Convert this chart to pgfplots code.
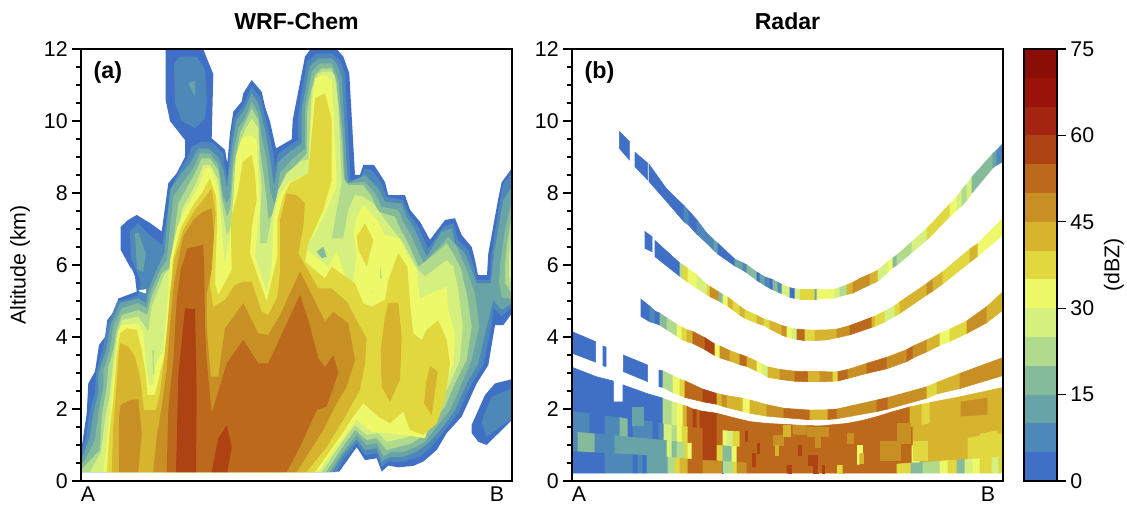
\documentclass[border=0pt]{standalone}
\usepackage{pgfplots}
\pgfplotsset{compat=1.18}
\usepackage{fontspec}
\setmainfont{Liberation Sans}
\definecolor{L0}{RGB}{64,112,198}
\definecolor{L5}{RGB}{78,136,184}
\definecolor{L10}{RGB}{104,163,168}
\definecolor{L15}{RGB}{134,187,154}
\definecolor{L20}{RGB}{176,219,140}
\definecolor{L25}{RGB}{214,240,127}
\definecolor{L30}{RGB}{238,249,106}
\definecolor{L35}{RGB}{225,216,63}
\definecolor{L40}{RGB}{214,180,46}
\definecolor{L45}{RGB}{200,143,37}
\definecolor{L50}{RGB}{188,105,28}
\definecolor{L55}{RGB}{173,66,18}
\definecolor{L60}{RGB}{163,36,16}
\definecolor{L65}{RGB}{153,19,10}
\definecolor{L70}{RGB}{138,14,6}
\pgfplotsset{
  colormap={dbz}{rgb255=(64,112,198) rgb255=(78,136,184) rgb255=(104,163,168) rgb255=(134,187,154) rgb255=(176,219,140) rgb255=(214,240,127) rgb255=(238,249,106) rgb255=(225,216,63) rgb255=(214,180,46) rgb255=(200,143,37) rgb255=(188,105,28) rgb255=(173,66,18) rgb255=(163,36,16) rgb255=(153,19,10) rgb255=(138,14,6)},
  panel/.style={
    at={(#1,17.25pt)},anchor=south west,scale only axis,width=323.25pt,height=324pt,
    xmin=0,xmax=431,ymin=0,ymax=12,
    ytick={0,2,4,6,8,10,12},minor y tick num=3,
    xtick={7,416},xticklabels={A,B},
    tick align=outside,ytick pos=left,xtick pos=bottom,
    major tick length=6.5pt,minor tick length=4pt,
    x tick style={draw=none},
    tick style={black,line width=0.8pt},
    axis line style={line width=0.9pt},
    axis on top,
    tick label style={font=\fontsize{16}{18}\selectfont},
    /pgf/number format/assume math mode=true,
    xticklabel style={yshift=5.5pt},
    title style={font=\fontsize{17.3}{20}\selectfont\bfseries,yshift=5pt},
    clip=true,
  },
  c/.style={fill=#1,draw=none,forget plot},
  radar/.style={surf,shader=flat corner,mesh/rows=2,point meta=explicit,colormap name=dbz,colormap access=direct,forget plot},
}
\begin{document}
\begin{tikzpicture}
\path[use as bounding box] (0,0) rectangle (845.25pt,378pt);
\begin{axis}[panel=60.75pt,title={WRF-Chem},ylabel={Altitude (km)},ylabel style={font=\fontsize{16}{18}\selectfont,at={(axis description cs:-0.1415,0.5)},anchor=center}]
% contour 0 dBZ
\addplot[c=L0] coordinates {(0,0.25)(0,0.8)(5.7,1.88)(7.3,2.71)(14,3.04)(18,3.78)(24,4.0)(26.3,4.47)(34,4.75)(37.3,5.07)(55.7,5.26)(54,5.68)(47.3,6.14)(50.7,5.86)(39.7,6.42)(39.7,7.06)(47,7.25)(55.7,7.39)(70,7.15)(80.7,6.93)(87.3,8.27)(95.7,8.55)(104,9.0)(104,9.47)(89,10.0)(84.7,10.58)(84.7,12.1)(120.7,12.1)(132.3,11.3)(130.7,9.52)(144,9.2)(146.3,8.82)(149,9.66)(152.3,10.26)(160.7,10.54)(162.3,10.77)(170.7,11.14)(180.7,10.81)(184,10.4)(189,9.98)(195,9.24)(210.7,9.49)(211.7,10.03)(224,11.79)(232.3,12.1)(252.3,12.1)(262.3,11.79)(268.3,11.32)(274,8.5)(279,8.5)(282.3,8.78)(293,8.78)(304,8.3)(307.3,7.94)(324,7.94)(329,7.53)(339,7.2)(349,6.7)(364,7.25)(374,7.3)(380.7,6.83)(390.7,6.5)(394,6.14)(397,5.72)(406,5.72)(407.3,6.32)(417.3,7.85)(420.7,8.3)(431,8.69)(431,4.66)(422.3,4.33)(414,4.33)(407.3,3.22)(395.7,2.71)(380.7,1.79)(365.7,1.33)(355.7,0.86)(342.3,0.54)(332.3,0.42)(317.3,0.38)(307.3,0.43)(300.7,0.26)(295.7,0.63)(284,0.58)(275.7,0.94)(258.3,0.26)} --cycle;
\addplot[c=L0] coordinates {(431,2.83)(414,2.71)(404,2.39)(390.7,1.56)(390.7,1.33)(397.3,1.09)(405.7,1.0)(431,1.7)} --cycle;
\addplot[c=L5] coordinates {(431,2.58)(410.7,2.34)(402.3,1.79)(400.7,1.6)(405.7,1.23)(431,1.74)} --cycle;
\addplot[c=L5] coordinates {(93,11.6)(99,11.79)(115.7,11.79)(124,11.42)(125.7,10.58)(124,10.07)(114,9.8)(100.7,10)(94,10.49)} --cycle;
\addplot[c=L10] coordinates {(107.3,11.05)(114,11.12)(114,10.68)} --cycle;
% 5 dBZ
\addplot[c=L5] coordinates {(0,0.25)(0,0.72)(5,1.2)(8,1.85)(14,2.5)(15,3)(22,3.7)(27,4.35)(36,4.98)(57,5.15)(60,5.5)(55,5.9)(50,6.2)(49,6.93)(57,7.16)(68,6.85)(81,6.55)(90.7,8.18)(99,8.64)(106.3,8.96)(110.7,9.29)(120.7,9.43)(132.3,9.38)(142.3,9.1)(144,8.69)(146.5,8.4)(149,9.29)(153,10.07)(162.3,10.44)(170.7,10.95)(179,10.68)(185.7,9.98)(192.3,9.1)(194,8.69)(197.3,9.1)(209,9.33)(217,9.47)(217,10.12)(225.7,11.65)(235.7,11.88)(250.7,11.88)(259,11.69)(264,11.32)(269,8.59)(269,8.36)(279,8.41)(284,8.68)(290.7,8.64)(300.7,8.27)(305.7,7.9)(322.3,7.8)(327.3,7.44)(337.3,7.06)(347.3,6.46)(362.3,7.06)(372.3,7.16)(377.3,6.69)(387.3,6.42)(394,5.86)(395.7,5.58)(409,5.58)(410.7,6.32)(419,7.8)(422.3,8.27)(431,8.55)(431,4.85)(420.7,4.57)(412.3,4.8)(410.7,4.33)(402.3,3.22)(390.7,2.71)(377.3,1.88)(364,1.42)(350.7,0.95)(339,0.68)(322.3,0.54)(307.3,0.54)(300.7,0.4)(295.7,0.77)(284,0.72)(275.7,1.05)(262.3,0.58)(255,0.25)} --cycle;
% 10 dBZ
\addplot[c=L10] coordinates {(54,6.88)(57.3,6.9)(65,6.3)(62,5.8)(56,5.9)(55,6.4)} --cycle;
\addplot[c=L10] coordinates {(0,0.25)(0,0.55)(9,1.23)(12.3,1.88)(17.3,2.44)(17.3,3)(25.7,3.69)(29,4.29)(39,4.94)(57.3,5.07)(65,4.94)(67.3,5.3)(76.3,5.91)(83.3,6.32)(89,8.08)(99,8.5)(109,8.82)(117.3,9.24)(127.3,9.24)(137.3,9.0)(142.3,8.64)(146,8.12)(149,8.82)(152.3,9.56)(155.7,10.03)(162.3,10.26)(170.7,10.77)(177.3,10.49)(184,9.75)(189,9.0)(193,8.18)(197.3,8.87)(209,9.15)(220.7,9.38)(220.7,10.3)(228.3,11.5)(237.3,11.74)(250.7,11.74)(255.7,11.6)(260.7,11.23)(266.3,8.55)(267.3,8.27)(284,8.5)(297.3,8.13)(304,7.76)(320.7,7.71)(325.7,7.34)(334,6.97)(345.7,6.23)(360.7,6.93)(370.7,7.02)(374,6.6)(384,6.32)(390.7,5.86)(395.7,5.49)(409.7,5.49)(413,6.32)(422.3,7.8)(431,8.18)(431,4.94)(420.7,4.75)(412.3,5.03)(405.7,4.29)(397.3,3.27)(385.7,2.71)(374,1.97)(360.7,1.46)(347.3,1.05)(335.7,0.82)(322.3,0.67)(309,0.67)(300.7,0.54)(295.7,0.91)(284,0.86)(275.7,1.16)(260.7,0.68)(251.3,0.25)} --cycle;
% right lobe
\addplot[c=L15] coordinates {(431,7.8)(424,7.0)(419,6.0)(418,5.5)(421,5.1)(431,5.05)} --cycle;
\addplot[c=L20] coordinates {(431,7.4)(426,6.6)(424,6)(424,5.5)(431,5.2)} --cycle;
\addplot[c=L25] coordinates {(431,6.9)(428,6.2)(428,5.7)(431,5.4)} --cycle;
\addplot[c=L30] coordinates {(431,6.5)(430,6)(431,5.6)} --cycle;
% 15 dBZ
\addplot[c=L15] coordinates {(0,0.25)(0,0.45)(4,0.58)(14,1.14)(17.3,1.88)(22.3,2.62)(22.3,3.08)(29,3.64)(32.3,4.29)(40.7,4.8)(57.3,4.94)(65.7,4.8)(69,5.21)(79,5.86)(85.7,6.14)(92.3,7.9)(102.3,8.31)(112.3,8.69)(119,9.1)(129,9.1)(137.3,8.78)(142.3,7.9)(145.7,7.7)(149,7.9)(152.3,9.1)(157.3,9.8)(164,10.07)(170.7,10.54)(177.3,10.2)(180.7,9.56)(185.7,8.92)(189,8.08)(194,7.62)(199,8.55)(210.7,8.92)(224,9.24)(224,10.4)(230.7,11.37)(239,11.6)(250.7,11.6)(257.3,11.14)(262.3,9.47)(264,8.27)(284,8.31)(294,7.99)(300.7,7.62)(317.3,7.53)(322.3,7.2)(330.7,6.79)(342.3,6.05)(359,6.51)(367.3,6.79)(375.7,6.51)(385.7,5.86)(394,5.21)(398.3,4.29)(390.7,3.36)(380.7,2.71)(369,1.97)(355.7,1.51)(344,1.09)(332.3,0.91)(322.3,0.81)(310.7,0.81)(302.3,0.68)(295.7,1.05)(285.7,1.0)(275.7,1.28)(260.7,0.77)(248.3,0.25)} --cycle;
% 20 dBZ
\addplot[c=L20] coordinates {(0,0.25)(0,0.3)(2.3,0.38)(19,0.86)(20.7,1.79)(25.7,2.62)(27.3,3.18)(32.3,3.64)(35.7,4.2)(40.7,4.61)(57.3,4.75)(66.3,4.61)(70.7,5.12)(80.7,5.77)(89,5.95)(97.3,7.71)(105.7,8.13)(114,8.55)(120.7,8.96)(129,8.96)(137.3,8.64)(141.7,7.8)(146,7.34)(149.7,7.62)(152.3,8.64)(159,9.66)(164,9.94)(170.7,10.35)(177.3,10.03)(179,9.19)(182.3,8.55)(185.7,7.8)(187.3,7.25)(192.3,7.44)(200.7,8.27)(212.3,8.69)(225.7,9.1)(226.3,10.4)(234,11.28)(240.7,11.46)(250.7,11.46)(255.7,11.05)(260.7,9.47)(263,8.4)(267.3,8.22)(282.3,8.22)(290.7,7.9)(297.3,7.48)(314,7.34)(319,7.02)(327.3,6.6)(337.3,5.95)(354,6.32)(365.7,6.6)(372.3,6.32)(380.7,5.86)(382.3,5.58)(385.7,5.21)(390.7,4.29)(385.7,3.36)(374,2.71)(364,2.07)(350.7,1.6)(339,1.19)(329,1.03)(317.3,0.95)(305.7,0.86)(295.7,1.19)(285.7,1.14)(274,1.42)(260.7,0.91)(245,0.25)} --cycle;
% 25 dBZ
\addplot[c=L25] coordinates {(9,0.25)(20,0.8)(24,1.7)(29,2.44)(32.3,3.36)(35.7,4)(40.7,4.47)(57.3,4.57)(67.3,4.15)(70.7,4.84)(84,5.77)(92.3,5.95)(100.7,7.53)(109,7.94)(115.7,8.31)(122.3,8.78)(129,8.78)(137.3,8.36)(140.7,7.62)(146,6.8)(149.7,7.06)(154,8.18)(159,9.38)(164,9.75)(170.7,10.07)(177.3,9.8)(178.3,8.82)(180.7,8.18)(179,7.25)(179,6.6)(185.7,6.6)(190.7,7.34)(197.3,8.08)(205.7,8.55)(220.7,8.9)(227.3,8.92)(230.7,10.86)(237.3,11.32)(242.3,11.37)(250.7,11.37)(254,11.23)(257.3,10.4)(260.7,8.27)(255.7,7.53)(250.7,6.74)(262.3,6.74)(267.3,7.53)(274,7.94)(282.3,7.9)(292.3,7.71)(305.7,7.2)(322.3,6.6)(337.3,5.86)(344,5.68)(365.7,6.14)(372.3,5.95)(377.3,5.31)(381.7,4.29)(379,3.36)(369,2.71)(359,2.16)(347.3,1.7)(337.3,1.33)(322.3,1.19)(305.7,1.09)(297.3,1.33)(285.7,1.28)(274,1.56)(259,1.0)(240.7,0.25)} --cycle;
% 30 dBZ
\addplot[c=L30] coordinates {(22.3,0.25)(27.3,1.51)(30.7,2.44)(34,3.36)(37.3,4.2)(40.7,4.33)(57.3,4.38)(62.3,4.1)(65.7,3.08)(68.3,2.67)(72.3,2.67)(74,3.18)(82.3,3.64)(84,4.29)(87.3,5.21)(89,6.14)(96.3,7.06)(102.3,7.44)(110.7,7.85)(119,8.27)(124,8.69)(130.7,8.69)(137.3,8.08)(141.7,6.69)(144,6.05)(149,6.79)(152.3,7.81)(154.7,9.0)(160.7,9.52)(170.7,9.61)(175.7,9.43)(177.3,8.55)(179,7.62)(174,6.23)(186.3,5.21)(190.7,6.05)(192.3,7.25)(197.3,7.9)(207.3,8.27)(219,8.45)(228.3,8.55)(230.7,10.4)(234,11.19)(242.3,11.28)(250.7,11.14)(254,9.47)(255.7,8.18)(245.7,7.53)(234,6.88)(224,6.46)(247.3,5.95)(255.7,6.37)(265.7,5.58)(272.3,5.54)(275.7,6.32)(272.3,6.88)(275.7,7.34)(282.3,7.67)(297.3,7.2)(304,6.83)(319,6.74)(325.7,6.32)(335.7,5.86)(339,5.07)(365.7,5.4)(367.3,4.75)(374,4.1)(372.3,3.27)(364,2.67)(354,2.07)(344,1.19)(322.3,1.28)(305.7,1.33)(290.7,1.37)(275.7,1.7)(260.7,1.14)(237.3,0.25)} --cycle;
% 35 dBZ
\addplot[c=L35] coordinates {(25.7,0.25)(29,1.51)(32.3,2.25)(35.7,3.45)(39,4.1)(45.7,4.24)(55.7,4.2)(60.7,3.64)(65,2.9)(66.3,2.39)(74,2.39)(79,2.99)(85,3.64)(87.3,4.38)(90,5.21)(91.7,6.14)(99.7,7.02)(112.3,7.67)(120.7,7.99)(129,8.41)(135,7.9)(136.3,7.25)(135,6.32)(134,5.49)(137.3,5.17)(150.7,5.86)(149.7,7.25)(157.3,8.08)(161.7,8.87)(170.7,9.06)(174,8.55)(175.7,7.81)(170.7,7.06)(169,6.32)(185.7,4.98)(196.3,6.23)(196.3,7.25)(202.3,7.9)(209,8.27)(227.3,8.55)(234,10.63)(244,10.77)(250.7,10.03)(250.7,8.36)(242.3,7.53)(227.3,6.6)(224,6.09)(244,5.63)(250.7,5.95)(274,5.49)(282.3,4.94)(290.7,4.84)(304,5.03)(307.3,5.58)(317.3,6.33)(326.3,5.95)(329,4.94)(332.3,4.1)(340.7,3.92)(345.7,4.2)(357.3,4.47)(365.7,3.92)(369,3.27)(364,2.25)(355.7,1.6)(342.3,1.28)(329,1.42)(322.3,1.93)(309,1.6)(297.3,1.79)(282.3,2.16)(272.3,1.79)(259,1.23)(234,0.25)} --cycle;
\addplot[c=L35] coordinates {(275.7,6.79)(284,7.16)(292.3,6.69)(285.7,5.95)(277.3,6.42)} --cycle;
% 40 dBZ
\addplot[c=L40] coordinates {(30.7,0.25)(32.3,1.51)(35,2.44)(37.3,3.36)(39,3.83)(47.3,3.73)(54,3.45)(59,2.9)(63,1.97)(75,1.97)(79,2.44)(83,3.36)(86.3,4.29)(89,5.21)(93,6.14)(97.3,6.51)(102.3,6.97)(114,7.53)(122.3,7.81)(130.7,8.13)(134.7,7.43)(132.3,6.69)(129.7,5.77)(129,5.4)(132.3,4.84)(144,5.03)(154,5.45)(162.3,5.54)(170.7,5.54)(180.7,4.7)(187.3,4.61)(196.3,5.12)(199,5.77)(199,7.25)(205.7,7.99)(215.7,7.94)(224,7.71)(222.3,7.06)(217.3,6.32)(237.3,5.35)(250.7,5.35)(265.7,4.98)(285.7,3.96)(284,3.27)(279,2.53)(262.3,1.7)(245.7,0.95)(225.7,0.25)} --cycle;
\addplot[c=L40] coordinates {(307.3,4.94)(317.3,4.94)(320.7,4.01)(319,2.81)(309,2.2)(300.7,2.62)(299.7,3.64)(304,4.57)} --cycle;
\addplot[c=L40] coordinates {(349,3.2)(356.7,3.04)(350.7,1.83)(343,2.16)(345,2.71)} --cycle;
% 45 dBZ
\addplot[c=L45] coordinates {(38,0.25)(38,1.79)(39.7,2.11)(49,2.25)(57.3,2.27)(60.7,1.33)(57.3,0.25)} --cycle;
\addplot[c=L45] coordinates {(72.3,0.25)(75.7,1.23)(80.7,2.07)(85.7,3.08)(89,4.29)(93,5.49)(97.3,6.14)(102.3,6.79)(112.3,7.25)(122.3,7.48)(130.7,7.57)(133,6.88)(130.7,5.86)(125.7,5.21)(125.7,4.29)(129.7,2.9)(137.3,2.9)(144,4.24)(162.3,4.94)(177.3,4.1)(187.3,4.06)(199,4.61)(219,5.82)(244,4.43)(252.3,4.7)(267.3,4.38)(274,3.36)(265.7,2.62)(255.7,2.16)(242.3,1.42)(215.7,0.25)} --cycle;
% 50 dBZ
\addplot[c=L50] coordinates {(85.7,0.25)(87.3,1.97)(92.3,3.36)(95.7,5.03)(99.7,5.86)(106.3,6.46)(122.3,6.56)(123.3,5.86)(124,4.29)(125.7,3.36)(130.7,1.88)(145.7,3.27)(162.3,3.92)(177.3,3.27)(187.3,3.27)(219,5.17)(227.3,4.47)(237.3,3.41)(244,3.16)(252.3,3.5)(257.3,3.0)(245.7,2.07)(235.7,1.97)(219,0.95)(205.7,0.25)} --cycle;
% 55 dBZ
\addplot[c=L55] coordinates {(95,0.25)(97.3,2.9)(104,4.8)(114,4.77)(115.7,2.44)(115,0.25)} --cycle;
\addplot[c=L55] coordinates {(130.7,0.25)(137.3,1.19)(145.7,1.54)(150.7,0.95)(146.3,0.25)} --cycle;
% small islands
\addplot[c=L20] coordinates {(71.3,3.64)(73.3,3.64)(73,2.95)(72,2.99)} --cycle;
\addplot[c=L15] coordinates {(235.7,6.37)(242.3,6.51)(245.7,6.23)(240.7,6.19)} --cycle;
\addplot[c=L20] coordinates {(299,6.0)(300.7,5.63)(299,5.63)} --cycle;
\addplot[c=L25] coordinates {(290.7,5.3)(293,5.25)(290.7,5.2)} --cycle;
\addplot[c=white] coordinates {(57.3,5.29)(65,5.33)(65,5.21)(59,5.26)} --cycle;
\node[anchor=west,font=\fontsize{17.5}{18}\selectfont\bfseries] at (axis cs:8,11.36) {(a)};
\end{axis}
\begin{axis}[panel=429pt,title={Radar}]
% arc 4
\addplot[radar] coordinates {(47.3,9.24)[0](57.3,8.92)[0] (47.3,9.71)[0](57.3,9.43)[0]};
\addplot[radar] coordinates {(63,8.73)[0](75.7,8.36)[0] (63,9.13)[0](75.7,8.83)[0]};
\addplot[radar] coordinates {(77,8.32)[0](95,7.75)[0](112,7.2)[1](117,7.1)[0](125,6.85)[1](135,6.6)[1](142,6.4)[2](146,6.3)[0](163,5.97)[2](171,5.85)[1](175,5.78)[3](185,5.57)[0](188,5.52)[2](193,5.43)[1](198,5.35)[0](201,5.31)[3](206,5.25)[1](210,5.2)[5](218,5.1)[0](223,5.07)[5](228,5.04)[7](243,5.04)[2](245,5.05)[6](263,5.08)[5](268,5.13)[4](275,5.18)[8](281,5.22)[9](288,5.32)[9](298,5.45)[8](306,5.55)[5](316,5.8)[6](321,5.93)[3](325,6.0)[4](340,6.35)[5](355,6.7)[7](378,7.35)[6](385,7.53)[5](390,7.65)[4](395,7.8)[5](400,8.0)[3](421,8.7)[2](425,8.78)[1](431,8.87)[1]
(77,8.8)[0](95,8.1)[0](112,7.65)[1](117,7.5)[0](125,7.25)[1](135,6.88)[1](142,6.7)[2](146,6.6)[0](163,6.16)[2](171,6.06)[1](175,6.0)[3](185,5.8)[0](188,5.75)[2](193,5.67)[1](198,5.62)[0](201,5.59)[3](206,5.52)[1](210,5.45)[5](218,5.37)[0](223,5.34)[5](228,5.32)[7](243,5.32)[2](245,5.32)[6](263,5.33)[5](268,5.38)[4](275,5.45)[8](281,5.52)[9](288,5.63)[9](298,5.75)[8](306,5.86)[5](316,6.1)[6](321,6.2)[3](325,6.28)[4](340,6.65)[5](355,7.02)[7](378,7.7)[6](385,7.9)[5](390,8.1)[4](395,8.25)[5](400,8.45)[3](421,9.1)[2](425,9.2)[1](431,9.38)[1]};
% arc 3
\addplot[radar] coordinates {(73,6.46)[0](80,6.37)[0] (73,6.93)[0](80,6.79)[0]};
\addplot[radar] coordinates {(83,6.23)[0](108,5.68)[4](111,5.62)[7](116,5.52)[6](125,5.35)[5](135,5.17)[7](138,5.12)[9](147,5.0)[3](151,4.93)[6](156,4.85)[8](161,4.75)[7](168,4.6)[8](173,4.52)[7](185,4.38)[8](192,4.32)[7](198,4.22)[8](210,4.05)[9](215,4.0)[6](220,3.96)[5](225,3.93)[10](233,3.9)[7](243,3.9)[8](255,3.92)[8](265,3.98)[9](278,4.06)[10](300,4.27)[8](303,4.3)[7](313,4.42)[5](323,4.58)[7](328,4.66)[8](355,5.17)[9](361,5.28)[8](371,5.48)[7](398,6.08)[8](406,6.25)[6](431,6.84)[6]
(83,6.68)[0](108,6.05)[4](111,6.0)[7](116,5.9)[6](125,5.72)[5](135,5.45)[7](138,5.4)[9](147,5.25)[3](151,5.18)[6](156,5.1)[8](161,5.0)[7](168,4.85)[8](173,4.75)[7](185,4.6)[8](192,4.5)[7](198,4.45)[8](210,4.32)[9](215,4.28)[6](220,4.24)[5](225,4.22)[10](233,4.2)[7](243,4.19)[8](255,4.2)[8](265,4.22)[9](278,4.32)[10](300,4.55)[8](303,4.58)[7](313,4.72)[5](323,4.88)[7](328,4.98)[8](355,5.49)[9](361,5.62)[8](371,5.82)[7](398,6.45)[8](406,6.6)[6](431,7.3)[6]};
% arc 2
\addplot[radar] coordinates {(69,4.57)[0](78,4.42)[1](83,4.38)[0](88,4.33)[3](95,4.2)[4](105,4.02)[6](110,3.93)[7](115,3.87)[8](121,3.82)[10](133,3.65)[11](143,3.48)[6](148,3.42)[9](158,3.33)[8](168,3.23)[10](175,3.18)[8](185,3.05)[6](190,2.98)[5](196,2.88)[8](208,2.82)[9](223,2.77)[10](236,2.76)[8](248,2.76)[9](261,2.77)[7](266,2.78)[10](276,2.85)[9](295,2.99)[10](315,3.12)[9](335,3.32)[10](341,3.42)[9](355,3.59)[8](368,3.77)[6](378,3.88)[7](395,4.1)[9](415,4.4)[8](431,4.75)[8]
(69,5.05)[0](78,4.85)[1](83,4.72)[0](88,4.66)[3](95,4.53)[4](105,4.35)[6](110,4.27)[7](115,4.2)[8](121,4.15)[10](133,3.98)[11](143,3.8)[6](148,3.75)[9](158,3.62)[8](168,3.52)[10](175,3.45)[8](185,3.32)[6](190,3.25)[5](196,3.17)[8](208,3.1)[9](223,3.05)[10](236,3.04)[8](248,3.04)[9](261,3.03)[7](266,3.04)[10](276,3.1)[9](295,3.27)[10](315,3.44)[9](335,3.65)[10](341,3.75)[9](355,3.92)[8](368,4.1)[6](378,4.22)[7](395,4.45)[9](415,4.85)[8](431,5.26)[8]};
% arc 1
\addplot[radar] coordinates {(0,3.55)[0](23.7,3.3)[0] (0,4.15)[0](23.7,3.87)[0]};
\addplot[radar] coordinates {(31,3.2)[0](34,3.18)[0] (31,3.75)[0](34,3.72)[0]};
\addplot[radar] coordinates {(51.3,3.04)[0](75.7,2.76)[0] (51.3,3.5)[0](75.7,3.22)[0]};
\addplot[radar] coordinates {(87,2.62)[0](91,2.6)[0] (87,3.08)[0](91,3.06)[0]};
\addplot[radar] coordinates {(91,2.6)[4](101,2.45)[6](108,2.38)[7](113,2.32)[10](131,2.2)[11](145,2.13)[8](150,2.08)[9](155,2.04)[8](171,1.93)[6](178,1.88)[8](195,1.8)[9](212,1.76)[10](238,1.7)[8](256,1.71)[10](265,1.73)[9](305,1.93)[10](316,2.0)[9](355,2.3)[7](365,2.42)[8](388,2.57)[9](431,2.93)[9]
(91,3.06)[4](101,2.92)[6](108,2.83)[7](113,2.78)[10](131,2.55)[11](145,2.43)[8](150,2.4)[9](155,2.37)[8](171,2.3)[6](178,2.25)[8](195,2.12)[9](212,2.02)[10](238,1.97)[8](256,1.98)[10](265,2.0)[9](305,2.25)[10](316,2.32)[9](355,2.62)[7](365,2.74)[8](388,2.99)[9](431,3.43)[9]};
% low layers, top first
\addplot[radar] coordinates {(0,1.88)[0](24,1.8)[0](41,1.73)[0](41,1.73)[0](51,1.7)[0](51,1.7)[0](75,1.59)[0](91,1.53)[4](100,1.5)[5](105,1.48)[6](111,1.45)[8](115,1.45)[10](121,1.42)[11](125,1.41)[10](128,1.4)[11](145,1.36)[10](160,1.33)[10](178,1.29)[10](195,1.25)[10](221,1.23)[9](235,1.22)[10](248,1.22)[10](275,1.25)[10](290,1.28)[10](305,1.31)[10](320,1.36)[10](338,1.43)[8](350,1.48)[7](358,1.53)[8](388,1.75)[8](431,1.92)[8]
(0,3.16)[0](24,2.9)[0](41,2.78)[0](41,2.2)[0](51,2.2)[0](51,2.67)[0](75,2.43)[0](91,2.3)[4](100,2.2)[5](105,2.17)[6](111,2.11)[8](115,2.07)[10](121,2.0)[11](125,1.98)[10](128,1.95)[11](145,1.88)[10](160,1.77)[10](178,1.65)[10](195,1.6)[10](221,1.56)[9](235,1.54)[10](248,1.53)[10](275,1.6)[10](290,1.68)[10](305,1.79)[10](320,1.92)[10](338,2.06)[8](350,2.13)[7](358,2.18)[8](388,2.34)[8](431,2.6)[8]};
\addplot[radar] coordinates {(0,1.32)[1](18,1.27)[0](33,1.24)[1](48,1.21)[3](56,1.18)[0](61,1.16)[1](81,1.11)[0](87,1.09)[1](92,1.08)[5](100,1.05)[4](105,1.04)[6](110,1.02)[7](116,1.0)[10](131,.97)[11](145,.94)[10](151,.93)[6](155,.92)[5](161,.91)[7](168,.89)[10](185,.87)[10](201,.83)[10](221,.81)[10](235,.8)[10](255,.8)[10](271,.82)[10](300,.85)[10](325,.9)[10](341,.93)[8](376,1.07)[8](431,1.27)[8]
(0,1.93)[1](18,1.87)[0](33,1.81)[1](48,1.76)[3](56,1.72)[0](61,1.71)[1](81,1.64)[0](87,1.6)[1](92,1.58)[5](100,1.55)[4](105,1.53)[6](110,1.51)[7](116,1.5)[10](131,1.45)[11](145,1.41)[10](151,1.4)[6](155,1.39)[5](161,1.38)[7](168,1.37)[10](185,1.33)[10](201,1.3)[10](221,1.28)[10](235,1.27)[10](255,1.27)[10](271,1.3)[10](300,1.35)[10](325,1.43)[10](341,1.5)[8](376,1.7)[8](431,1.97)[8]};
\addplot[radar] coordinates {(0,.77)[1](6,.76)[3](23,.73)[1](43,.71)[2](95,.61)[5](100,.6)[3](105,.59)[4](113,.57)[7](116,.56)[6](120,.55)[10](131,.53)[11](145,.51)[7](151,.5)[3](160,.48)[6](165,.47)[10](185,.43)[10](200,.4)[10](215,.39)[10](235,.37)[10](255,.37)[10](271,.38)[10](285,.39)[6](288,.39)[10](300,.4)[10](325,.42)[10](340,.44)[6](348,.45)[3](351,.46)[8](396,.55)[7](431,.63)[7]
(0,1.37)[1](6,1.35)[3](23,1.31)[1](43,1.26)[2](95,1.12)[5](100,1.1)[3](105,1.09)[4](113,1.06)[7](116,1.05)[6](120,1.05)[10](131,1.02)[11](145,.99)[7](151,.98)[3](160,.96)[6](165,.95)[10](185,.92)[10](200,.88)[10](215,.87)[10](235,.85)[10](255,.85)[10](271,.87)[10](285,.89)[6](288,.89)[10](300,.9)[10](325,.95)[10](340,.98)[6](348,1.0)[3](351,1.0)[8](396,1.2)[7](431,1.32)[7]};
\addplot[radar] coordinates {(0,.22)[0](33,.22)[1](61,.22)[0](66,.22)[1](71,.22)[0](75,.22)[2](96,.22)[4](103,.22)[7](108,.22)[8](116,.22)[10](131,.22)[9](150,.22)[0](151,.22)[4](161,.22)[7](165,.22)[9](175,.22)[10](215,.22)[11](220,.22)[10](241,.22)[11](246,.22)[10](265,.22)[7](271,.22)[10](325,.22)[7](339,.22)[3](351,.22)[4](368,.22)[6](376,.22)[7](385,.22)[3](393,.22)[5](401,.22)[6](408,.22)[7](420,.22)[5](427,.22)[7](431,.22)[7]
(0,.82)[0](33,.77)[1](61,.73)[0](66,.72)[1](71,.71)[0](75,.7)[2](96,.66)[4](103,.64)[7](108,.63)[8](116,.61)[10](131,.58)[9](150,.55)[0](151,.55)[4](161,.53)[7](165,.52)[9](175,.5)[10](215,.44)[11](220,.43)[10](241,.42)[11](246,.42)[10](265,.43)[7](271,.43)[10](325,.47)[7](339,.5)[3](351,.51)[4](368,.55)[6](376,.57)[7](385,.58)[3](393,.6)[5](401,.61)[6](408,.62)[7](420,.65)[5](427,.67)[7](431,.68)[7]};
\addplot[radar] coordinates {(60,1.56)[2](71,1.56)[2] (60,2.06)[2](71,2.06)[2]};
% patches inside the low layers
\addplot[radar] coordinates {(235,1.23)[9](256,1.23)[9] (235,1.5)[9](256,1.5)[9]};
\addplot[radar] coordinates {(201,.98)[9](211,.98)[9] (201,1.27)[9](211,1.27)[9]};
\addplot[radar] coordinates {(203,.72)[8](206,.72)[8] (203,.98)[8](206,.98)[8]};
\addplot[radar] coordinates {(308,.58)[9](328,.58)[9] (308,1.09)[9](328,1.09)[9]};
\addplot[radar] coordinates {(325,1.04)[9](338,1.04)[9] (325,1.6)[9](338,1.6)[9]};
\addplot[radar] coordinates {(285,.77)[6](290,.77)[6] (285,.98)[6](290,.98)[6]};
\addplot[radar] coordinates {(288,.49)[8](291,.49)[8] (288,.77)[8](291,.77)[8]};
\addplot[radar] coordinates {(180,.4)[11](183,.4)[11] (180,.76)[11](183,.76)[11]};
\addplot[radar] coordinates {(185,.77)[11](187,.77)[11] (185,1.04)[11](187,1.04)[11]};
\addplot[radar] coordinates {(226,.72)[11](229,.72)[11] (226,1.0)[11](229,1.0)[11]};
\addplot[radar] coordinates {(236,.44)[11](245,.44)[11] (236,.72)[11](245,.72)[11]};
\addplot[radar] coordinates {(216,.22)[11](219,.22)[11] (216,.44)[11](219,.44)[11]};
\addplot[radar] coordinates {(250,.22)[11](252,.22)[11] (250,.44)[11](252,.44)[11]};
\addplot[radar] coordinates {(173,1.09)[11](175,1.09)[11] (173,1.37)[11](175,1.37)[11]};
\addplot[radar] coordinates {(243,.95)[9](248,.95)[9] (243,1.23)[9](248,1.23)[9]};
\addplot[radar] coordinates {(211,1.23)[8](218,1.23)[8] (211,1.55)[8](218,1.55)[8]};
\addplot[radar] coordinates {(275,1.04)[9](281,1.04)[9] (275,1.32)[9](281,1.32)[9]};
\addplot[radar] coordinates {(341,.58)[7](355,.58)[7] (341,1.1)[7](355,1.1)[7]};
\addplot[radar] coordinates {(389,1.8)[9](415,1.85)[9] (389,2.2)[9](415,2.3)[9]};
\addplot[radar] coordinates {(408,.8)[7](425,.85)[7] (408,1.3)[7](425,1.4)[7]};
\node[anchor=west,font=\fontsize{17.5}{18}\selectfont\bfseries] at (axis cs:8,11.36) {(b)};
\end{axis}
\begin{axis}[at={(768pt,17.25pt)},anchor=south west,scale only axis,width=24.75pt,height=324pt,
  xmin=0,xmax=1,ymin=0,ymax=75,xtick=\empty,ytick={0,15,30,45,60,75},ytick pos=right,yticklabel pos=right,
  tick align=outside,major tick length=6.5pt,tick style={black,line width=0.8pt},axis line style={line width=0.9pt},axis on top,
  tick label style={font=\fontsize{16}{18}\selectfont},/pgf/number format/assume math mode=true,
  ylabel={(dBZ)},ylabel style={font=\fontsize{16}{18}\selectfont,at={(axis description cs:2.72,0.5)},anchor=center}]
\addplot[c=L0] coordinates {(0,0)(1,0)(1,5)(0,5)} --cycle;
\addplot[c=L5] coordinates {(0,5)(1,5)(1,10)(0,10)} --cycle;
\addplot[c=L10] coordinates {(0,10)(1,10)(1,15)(0,15)} --cycle;
\addplot[c=L15] coordinates {(0,15)(1,15)(1,20)(0,20)} --cycle;
\addplot[c=L20] coordinates {(0,20)(1,20)(1,25)(0,25)} --cycle;
\addplot[c=L25] coordinates {(0,25)(1,25)(1,30)(0,30)} --cycle;
\addplot[c=L30] coordinates {(0,30)(1,30)(1,35)(0,35)} --cycle;
\addplot[c=L35] coordinates {(0,35)(1,35)(1,40)(0,40)} --cycle;
\addplot[c=L40] coordinates {(0,40)(1,40)(1,45)(0,45)} --cycle;
\addplot[c=L45] coordinates {(0,45)(1,45)(1,50)(0,50)} --cycle;
\addplot[c=L50] coordinates {(0,50)(1,50)(1,55)(0,55)} --cycle;
\addplot[c=L55] coordinates {(0,55)(1,55)(1,60)(0,60)} --cycle;
\addplot[c=L60] coordinates {(0,60)(1,60)(1,65)(0,65)} --cycle;
\addplot[c=L65] coordinates {(0,65)(1,65)(1,70)(0,70)} --cycle;
\addplot[c=L70] coordinates {(0,70)(1,70)(1,75)(0,75)} --cycle;
\end{axis}
\end{tikzpicture}
\end{document}
